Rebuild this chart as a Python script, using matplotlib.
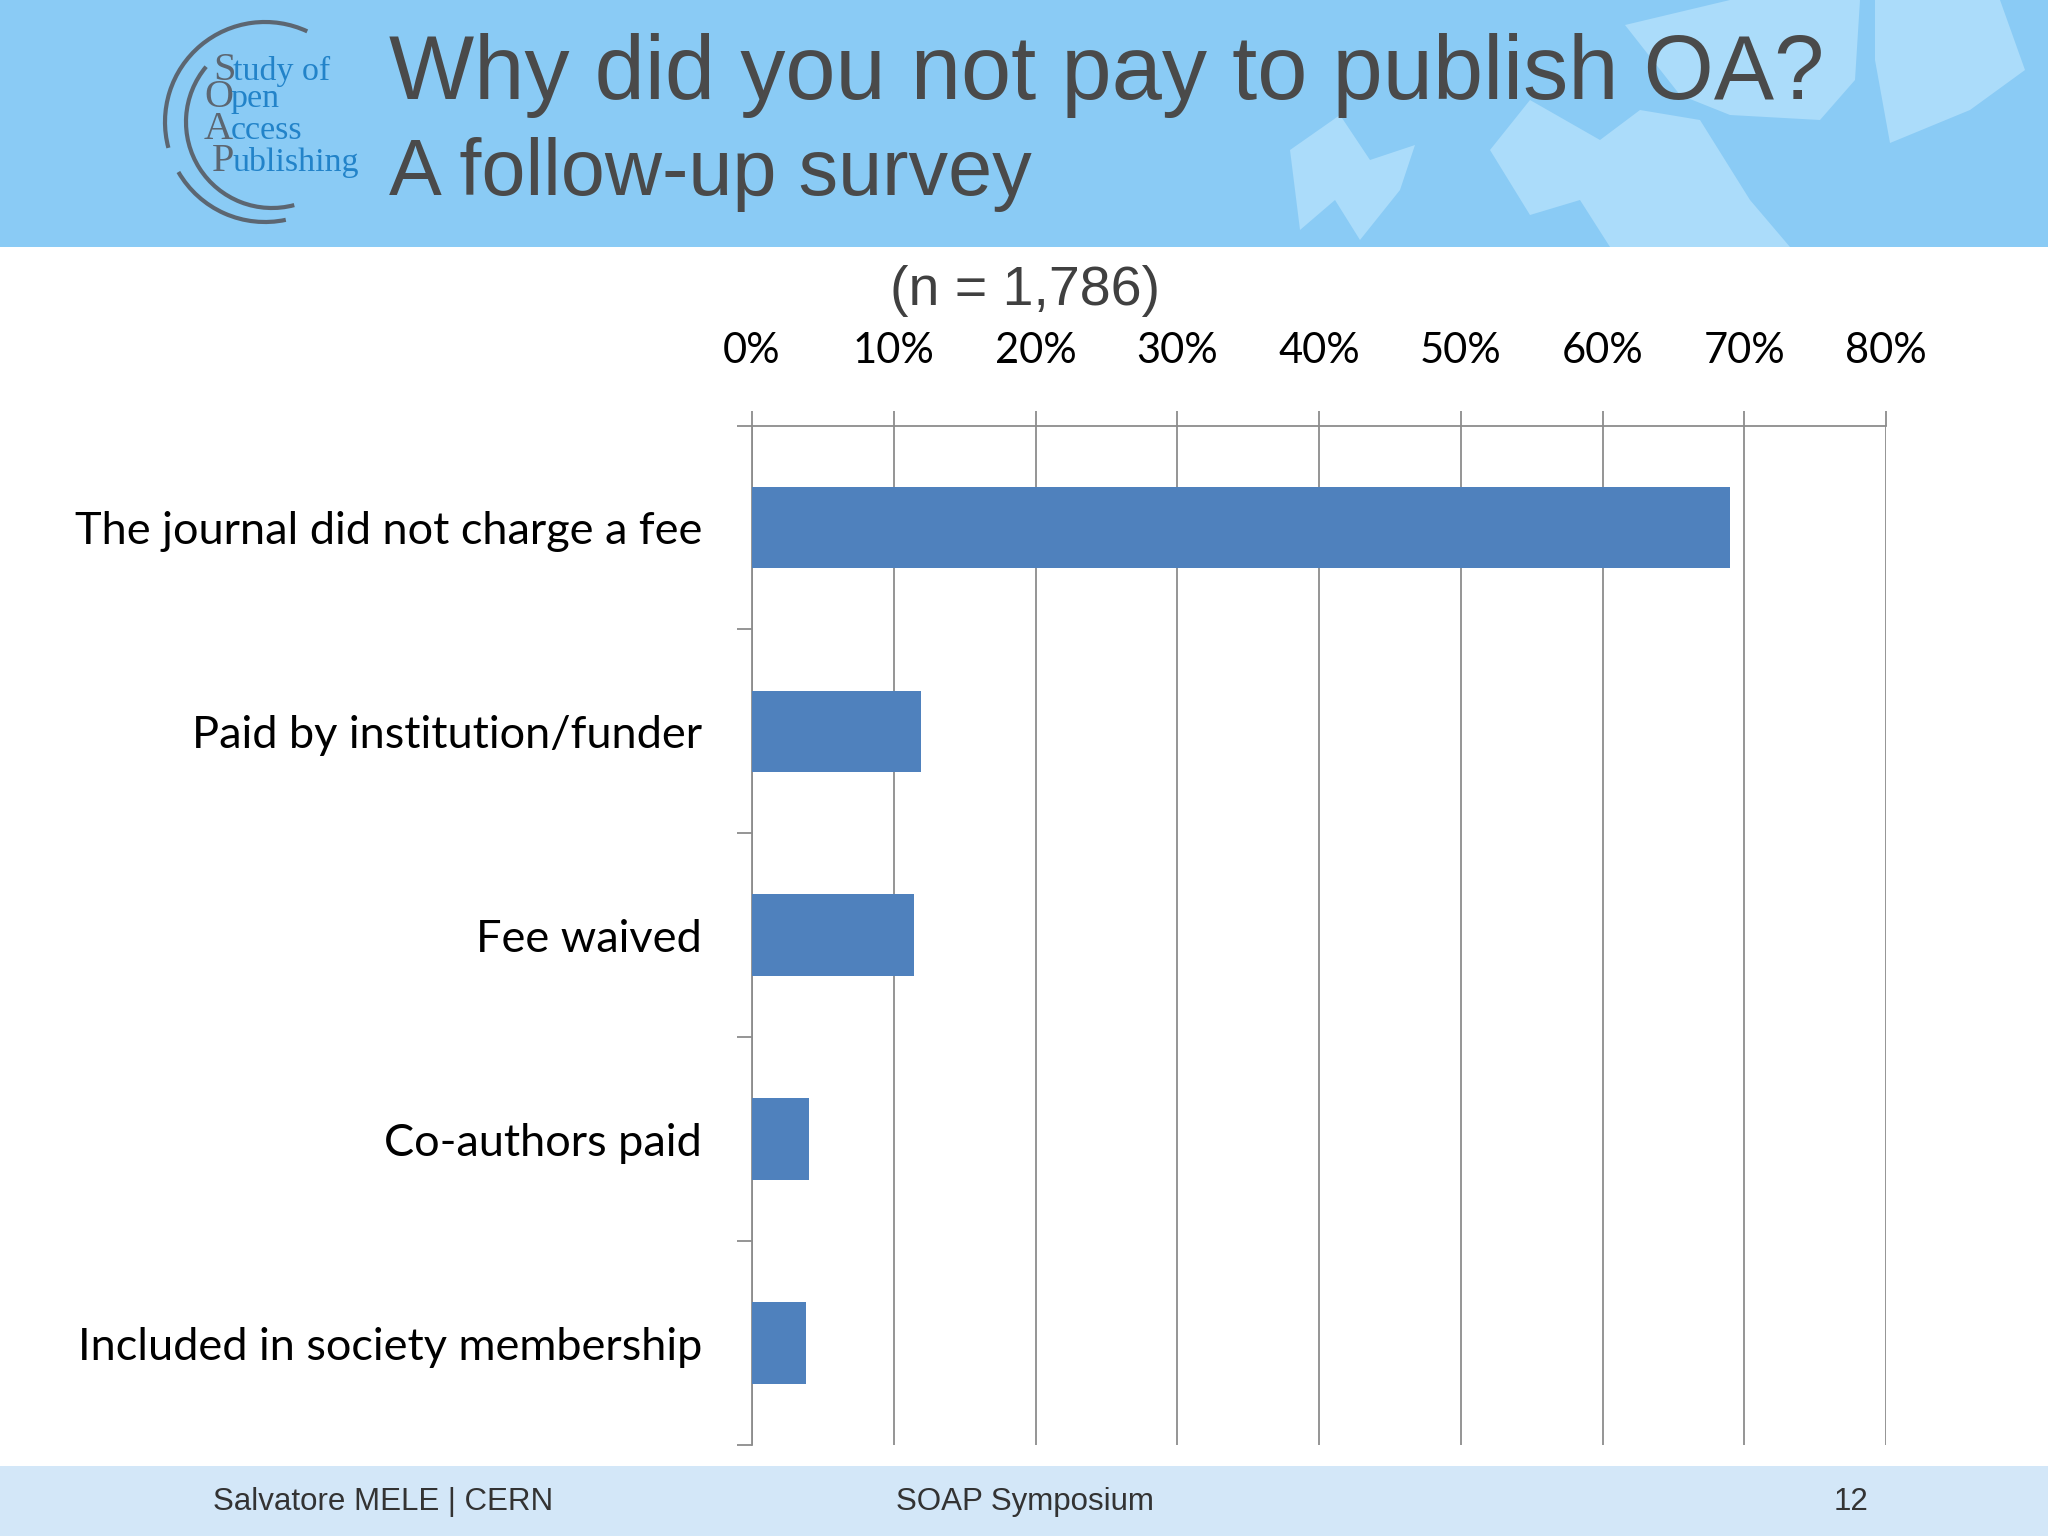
#!/usr/bin/env python3
"""SOAP follow-up survey slide: why authors did not pay to publish OA."""
import matplotlib
matplotlib.use("Agg")
import matplotlib.pyplot as plt
from matplotlib.patches import Rectangle, Polygon, Arc
import numpy as np

W, H = 2048, 1536

REASONS = [
    "The journal did not charge a fee",
    "Paid by institution/funder",
    "Fee waived",
    "Co-authors paid",
    "Included in society membership",
]
SHARES = [69.0, 11.9, 11.4, 4.0, 3.8]  # percent of respondents
X_TICKS = [0, 10, 20, 30, 40, 50, 60, 70, 80]

TITLE_1 = "Why did you not pay to publish OA?"
TITLE_2 = "A follow-up survey"
SUBTITLE = "(n = 1,786)"
FOOTER_LEFT = "Salvatore MELE | CERN"
FOOTER_MID = "SOAP Symposium"
FOOTER_RIGHT = "12"
LOGO_LINES = [("S", "tudy of"), ("O", "pen"), ("A", "ccess"), ("P", "ublishing")]

BAR_COLOR = "#4f81bd"
GRID_COLOR = "#8c8c8c"
HEADER_COLOR = "#8acbf5"
HEADER_LIGHT = "#abdcfa"
FOOTER_COLOR = "#d3e7f8"
TITLE_COLOR = "#4a4a4a"
LOGO_GRAY = "#5c6671"
LOGO_BLUE = "#2283c9"


def fx(x):
    return x / W


def fy(y):
    return 1 - y / H


fig = plt.figure(figsize=(W / 100, H / 100), dpi=100)
fig.patch.set_facecolor("white")

# background layer in pixel coordinates (y down)
bg = fig.add_axes([0, 0, 1, 1], zorder=-5)
bg.set_xlim(0, W)
bg.set_ylim(H, 0)
bg.axis("off")
bg.add_patch(Rectangle((0, 0), W, 247, color=HEADER_COLOR, lw=0))
bg.add_patch(Rectangle((0, 1466), W, H - 1466, color=FOOTER_COLOR, lw=0))
for pts in [
    [(1290, 150), (1340, 115), (1370, 160), (1415, 145), (1400, 190), (1360, 240), (1335, 200), (1300, 230)],
    [(1490, 150), (1530, 100), (1600, 140), (1640, 110), (1700, 120), (1750, 200), (1790, 247), (1610, 247), (1580, 200), (1530, 215)],
    [(1625, 25), (1730, 0), (1860, 0), (1855, 80), (1820, 120), (1730, 115), (1680, 95)],
    [(1875, 0), (2000, 0), (2025, 70), (1970, 110), (1890, 143), (1875, 60)],
]:
    bg.add_patch(Polygon(pts, closed=True, color=HEADER_LIGHT, lw=0))

# logo arcs (data angles are mirrored because y is inverted)
bg.add_patch(Arc((265, 122), 200, 200, theta1=165, theta2=295, color=LOGO_GRAY, lw=3))
bg.add_patch(Arc((272, 122), 172, 172, theta1=75, theta2=220, color=LOGO_GRAY, lw=3))
bg.add_patch(Arc((265, 122), 200, 200, theta1=78, theta2=150, color=LOGO_GRAY, lw=3))

renderer = fig.canvas.get_renderer()
logo_x = [213, 204, 204, 212]
logo_base = [80, 107, 139, 171]
for (cap, rest), x0, yb in zip(LOGO_LINES, logo_x, logo_base):
    t = fig.text(fx(x0), fy(yb), cap, family="Liberation Serif", fontsize=29,
                 color=LOGO_GRAY, va="baseline", ha="left")
    ext = t.get_window_extent(renderer)
    fig.text(ext.x1 / W - 0.001, fy(yb), rest, family="Liberation Serif", fontsize=24.5,
             color=LOGO_BLUE, va="baseline", ha="left")

# titles
fig.text(fx(389), fy(99), TITLE_1, family="Liberation Sans", fontsize=65,
         color=TITLE_COLOR, va="baseline", ha="left")
fig.text(fx(389), fy(195), TITLE_2, family="Liberation Sans", fontsize=57,
         color=TITLE_COLOR, va="baseline", ha="left")
fig.text(fx(1025), fy(305), SUBTITLE, family="Liberation Sans", fontsize=40,
         color="#404040", va="baseline", ha="center")

# footer
foot_kw = dict(family="Liberation Sans", fontsize=22.5, color="#333333", va="center")
fig.text(fx(213), fy(1502), FOOTER_LEFT, ha="left", **foot_kw)
fig.text(fx(1025), fy(1502), FOOTER_MID, ha="center", **foot_kw)
fig.text(fx(1868), fy(1502), FOOTER_RIGHT, ha="right", **foot_kw)

# chart
ax = fig.add_axes([fx(752), fy(1445), (1886 - 752) / W, (1445 - 425.5) / H])
ypos = np.arange(len(REASONS))
ax.barh(ypos, SHARES, height=0.4, color=BAR_COLOR, zorder=3)
ax.set_xlim(0, 80)
ax.set_ylim(len(REASONS) - 0.5, -0.5)

ax.xaxis.tick_top()
ax.set_xticks(X_TICKS)
ax.set_xticklabels([f"{v}%" for v in X_TICKS])
ax.xaxis.grid(True, color=GRID_COLOR, lw=1.3, zorder=1)
ax.tick_params(axis="x", direction="out", length=11, width=1.3, color=GRID_COLOR,
               pad=29, labelsize=30, labelcolor="black")
for lab in ax.get_xticklabels():
    lab.set_family("Lato")

ax.set_yticks(np.arange(-0.5, len(REASONS), 1.0))
ax.set_yticklabels([])
ax.set_yticks(ypos, minor=True)
ax.set_yticklabels(REASONS, minor=True)
ax.tick_params(axis="y", which="major", direction="out", length=11, width=1.3, color=GRID_COLOR)
ax.tick_params(axis="y", which="minor", length=0, pad=36, labelsize=32.5, labelcolor="black")
for lab in ax.get_yticklabels(minor=True):
    lab.set_family("Lato")

for side in ("right", "bottom"):
    ax.spines[side].set_visible(False)
for side in ("left", "top"):
    ax.spines[side].set_color(GRID_COLOR)
    ax.spines[side].set_linewidth(1.3)
ax.set_facecolor("none")

fig.savefig("out.png", dpi=100)
